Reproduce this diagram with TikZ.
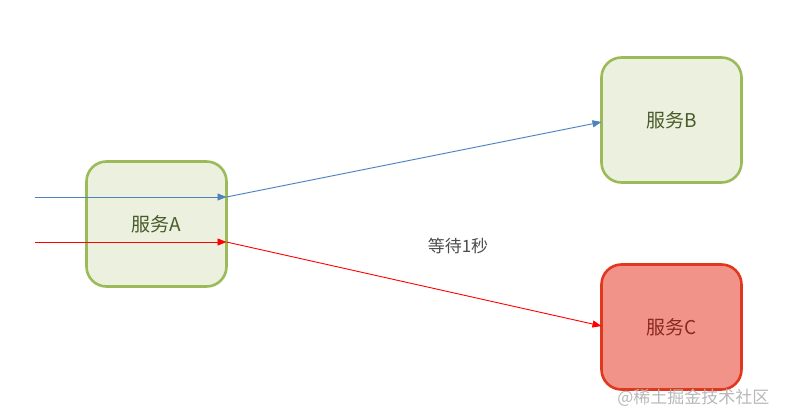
\documentclass[tikz,border=0pt]{standalone}
\usepackage{fontspec}
\setmainfont{Noto Sans CJK SC}
\usetikzlibrary{arrows.meta,calc}
\definecolor{gborder}{HTML}{9BBB59}
\definecolor{gfill}{HTML}{EBF1DE}
\definecolor{gtext}{HTML}{4A5A2A}
\definecolor{rborder}{HTML}{E0381E}
\definecolor{rfill}{HTML}{F2938A}
\definecolor{rtext}{HTML}{8A2A1E}
\definecolor{bline}{HTML}{4F81BD}
\definecolor{rline}{HTML}{FF0000}
\tikzset{
  svc/.style={draw=gborder,fill=gfill,line width=2.6pt,rounded corners=20pt,
    minimum width=140pt,minimum height=125pt,text=gtext,font=\fontsize{19}{21}\selectfont,inner sep=0pt,outer sep=0pt},
  svcbad/.style={svc,draw=rborder,fill=rfill,text=rtext},
  tip/.style={-{Triangle[length=9pt,width=7pt]}},
  bluearrow/.style={tip,draw=bline,color=bline,line width=0.9pt},
  redarrow/.style={tip,draw=rline,color=rline,line width=0.9pt},
}
\begin{document}
\begin{tikzpicture}[x=1pt,y=-1pt]
\useasboundingbox (0,0) rectangle (785,420);
\node[svc] (A) at (156.5,224) {服务A};
\node[svc] (B) at (671.5,120) {服务B};
\node[svcbad] (C) at (671.5,327) {服务C};
\node[text=black!70,font=\fontsize{17}{19}\selectfont] (wait) at (458,246) {等待1秒};
\node[text=black!28,font=\fontsize{17}{19}\selectfont,anchor=east] (wm) at (773,398) {@稀土掘金技术社区};
\coordinate (bs) at (35,197);
\coordinate (rs) at (35,242);
\coordinate (bm) at (A.east |- bs);
\coordinate (rm) at (A.east |- rs);
\coordinate (be) at ($(B.west)+(0,2)$);
\coordinate (re) at ($(C.west)+(0,-1)$);
\draw[bluearrow] (bs) -- (bm);
\draw[redarrow] (rs) -- (rm);
\draw[bluearrow] (bm) -- (be);
\draw[redarrow] (rm) -- (re);
\end{tikzpicture}
\end{document}
